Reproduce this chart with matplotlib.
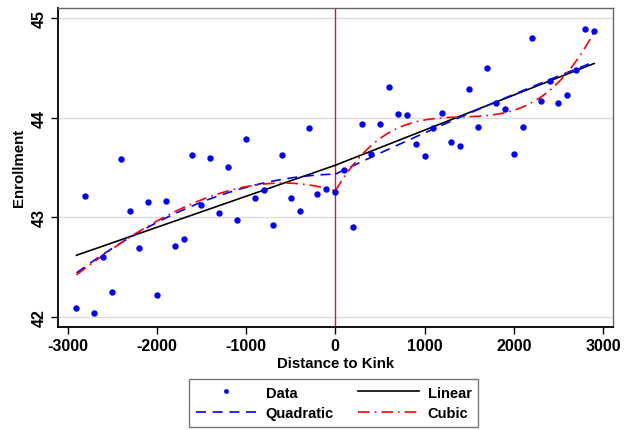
import numpy as np
import matplotlib
matplotlib.use("Agg")
import matplotlib.pyplot as plt
from matplotlib.lines import Line2D

plt.rcParams['font.family'] = ['Liberation Sans', 'DejaVu Sans']

# ---- data (bin means) ----
distance = [-2900, -2800, -2700, -2600, -2500, -2400, -2300, -2200, -2100, -2000,
            -1900, -1800, -1700, -1600, -1500, -1400, -1300, -1200, -1100, -1000,
            -900, -800, -700, -600, -500, -400, -300, -200, -100, 0,
            100, 200, 300, 400, 500, 600, 700, 800, 900, 1000,
            1100, 1200, 1300, 1400, 1500, 1600, 1700, 1800, 1900, 2000,
            2100, 2200, 2300, 2400, 2500, 2600, 2700, 2800, 2900]
enrollment = [42.09, 43.21, 42.04, 42.60, 42.25, 43.58, 43.06, 42.69, 43.15, 42.22,
              43.16, 42.71, 42.78, 43.62, 43.12, 43.59, 43.04, 43.50, 42.97, 43.79,
              43.19, 43.27, 42.92, 43.62, 43.19, 43.06, 43.90, 43.23, 43.28, 43.25,
              43.47, 42.90, 43.94, 43.64, 43.94, 44.31, 44.04, 44.03, 43.74, 43.61,
              43.90, 44.05, 43.76, 43.72, 44.29, 43.91, 44.50, 44.15, 44.09, 43.63,
              43.91, 44.80, 44.17, 44.37, 44.15, 44.23, 44.48, 44.89, 44.87]

x_ticks = [-3000, -2000, -1000, 0, 1000, 2000, 3000]
y_ticks = [42, 43, 44, 45]
kink = 0

d = np.asarray(distance, dtype=float)
y = np.asarray(enrollment, dtype=float)


def kink_fit(order):
    """Continuous polynomial fit with a slope change at the kink."""
    s = d / 1000.0
    right = (d >= kink).astype(float)
    cols = [np.ones_like(s)]
    for k in range(1, order + 1):
        cols.append(s ** k)
        cols.append((s ** k) * right)
    X = np.column_stack(cols)
    beta, *_ = np.linalg.lstsq(X, y, rcond=None)

    def predict(xx):
        ss = np.asarray(xx) / 1000.0
        rr = (np.asarray(xx) >= kink).astype(float)
        out = beta[0] * np.ones_like(ss)
        i = 1
        for k in range(1, order + 1):
            out = out + beta[i] * ss ** k + beta[i + 1] * (ss ** k) * rr
            i += 2
        return out
    return predict


fig = plt.figure(figsize=(6.33, 4.31), dpi=100)
ax = fig.add_axes([0.0912, 0.2397, 0.877, 0.739])

ax.set_xlim(-3110, 3110)
ax.set_ylim(41.9, 45.1)

for v in y_ticks:
    ax.axhline(v, color='#dcdcdc', lw=1.0, zorder=0)

ax.axvline(kink, color='#b8243f', lw=1.0, zorder=1)

ax.plot(d, y, 'o', color='#0000ff', ms=4.6, mec='none', zorder=5)

left_grid = np.linspace(d.min(), kink, 300)
right_grid = np.linspace(kink, d.max(), 300)

styles = {
    1: dict(color='black', lw=1.2, ls='-'),
    2: dict(color='#0000ff', lw=1.2, ls=(0, (6, 4))),
    3: dict(color='#ff0000', lw=1.2, ls=(0, (7, 3, 1, 3))),
}
for order in (1, 2, 3):
    f = kink_fit(order)
    for g in (left_grid, right_grid):
        ax.plot(g, f(g), zorder=4 if order > 1 else 3, **styles[order])

ax.set_xticks(x_ticks)
ax.set_yticks(y_ticks)
ax.set_xticklabels([str(t) for t in x_ticks], fontsize=11.5, fontweight='bold')
ax.set_yticklabels([str(t) for t in y_ticks], fontsize=11.5, fontweight='bold',
                   rotation=90, va='center')
ax.tick_params(direction='out', length=5, width=1, color='black', pad=3)

ax.set_xlabel('Distance to Kink', fontsize=10.8, fontweight='bold', labelpad=2)
ax.set_ylabel('Enrollment', fontsize=10.8, fontweight='bold', labelpad=4)

for side in ('left', 'bottom'):
    ax.spines[side].set_color('black')
    ax.spines[side].set_linewidth(1.3)
for side in ('top', 'right'):
    ax.spines[side].set_color('#666666')
    ax.spines[side].set_linewidth(1.0)

# column-major order -> rows: Data | Linear, Quadratic | Cubic
handles = [
    Line2D([], [], marker='o', ls='none', color='#0000ff', ms=3.5, mec='none'),
    Line2D([], [], **styles[2]),
    Line2D([], [], **styles[1]),
    Line2D([], [], **styles[3]),
]
labels = ['Data', 'Quadratic', 'Linear', 'Cubic']
leg = fig.legend(handles, labels, ncol=2, loc='upper left',
                 bbox_to_anchor=(189 / 633, 1 - 380 / 431),
                 borderaxespad=0.0,
                 frameon=True, fancybox=False, edgecolor='#555555',
                 prop={'weight': 'bold', 'size': 10.5},
                 handlelength=4.2, handletextpad=0.6, columnspacing=1.65,
                 borderpad=0.45, labelspacing=0.45)
leg.get_frame().set_linewidth(1.0)

fig.savefig('out.png', dpi=100)
